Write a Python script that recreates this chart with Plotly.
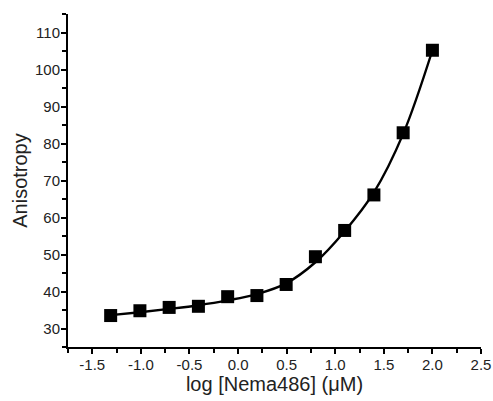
import plotly.graph_objects as go

# measured data points
log_conc = [-1.311, -1.010, -0.709, -0.408, -0.107, 0.194, 0.495, 0.796, 1.097, 1.398, 1.699, 2.0]
anisotropy = [33.5, 34.8, 35.7, 36.0, 38.6, 38.9, 41.9, 49.4, 56.5, 66.1, 82.9, 105.2]
# fitted curve at the same x positions
fit_anisotropy = [33.6, 34.4, 35.3, 36.3, 37.6, 39.3, 42.2, 47.9, 56.3, 66.8, 82.6, 105.2]

x_ticks = [-1.5, -1.0, -0.5, 0.0, 0.5, 1.0, 1.5, 2.0, 2.5]
x_labels = ["-1.5", "-1.0", "-0.5", "0.0", "0.5", "1.0", "1.5", "2.0", "2.5"]
y_ticks = [30, 40, 50, 60, 70, 80, 90, 100, 110]

FONT = "Liberation Sans, Arial, sans-serif"

fig = go.Figure()
fig.add_trace(go.Scatter(
    x=log_conc, y=fit_anisotropy, mode="lines",
    line=dict(color="black", width=2.4, shape="spline", smoothing=1.0),
    showlegend=False, hoverinfo="skip"))
fig.add_trace(go.Scatter(
    x=log_conc, y=anisotropy, mode="markers",
    marker=dict(symbol="square", size=13, color="black"),
    showlegend=False))

axis_common = dict(
    showline=True, linecolor="black", linewidth=2, mirror=False,
    ticks="outside", ticklen=5, tickwidth=2, tickcolor="black",
    showgrid=False, zeroline=False, automargin=False,
    ticklabelstandoff=-2,
    tickfont=dict(family=FONT, size=15, color="#222222"),
)

fig.update_xaxes(
    range=[-1.75, 2.5], tickvals=x_ticks, ticktext=x_labels,
    minor=dict(dtick=0.25, tick0=0, ticks="outside", ticklen=4, tickwidth=2, tickcolor="black"),
    title=dict(text="log [Nema486] (μM)", standoff=3,
               font=dict(family=FONT, size=20, color="#222222")),
    **axis_common)
fig.update_yaxes(
    range=[25, 115], tickvals=y_ticks,
    minor=dict(dtick=5, tick0=0, ticks="outside", ticklen=4, tickwidth=2, tickcolor="black"),
    title=dict(text="Anisotropy", standoff=2,
               font=dict(family=FONT, size=20, color="#222222")),
    **axis_common)

fig.update_layout(
    width=493, height=401,
    margin=dict(l=68, r=12, t=14, b=54),
    paper_bgcolor="white", plot_bgcolor="white",
)

fig.write_html("out.html",
               config={"displayModeBar": False},
               post_script="document.body.style.margin='0';document.body.style.overflow='hidden';")
